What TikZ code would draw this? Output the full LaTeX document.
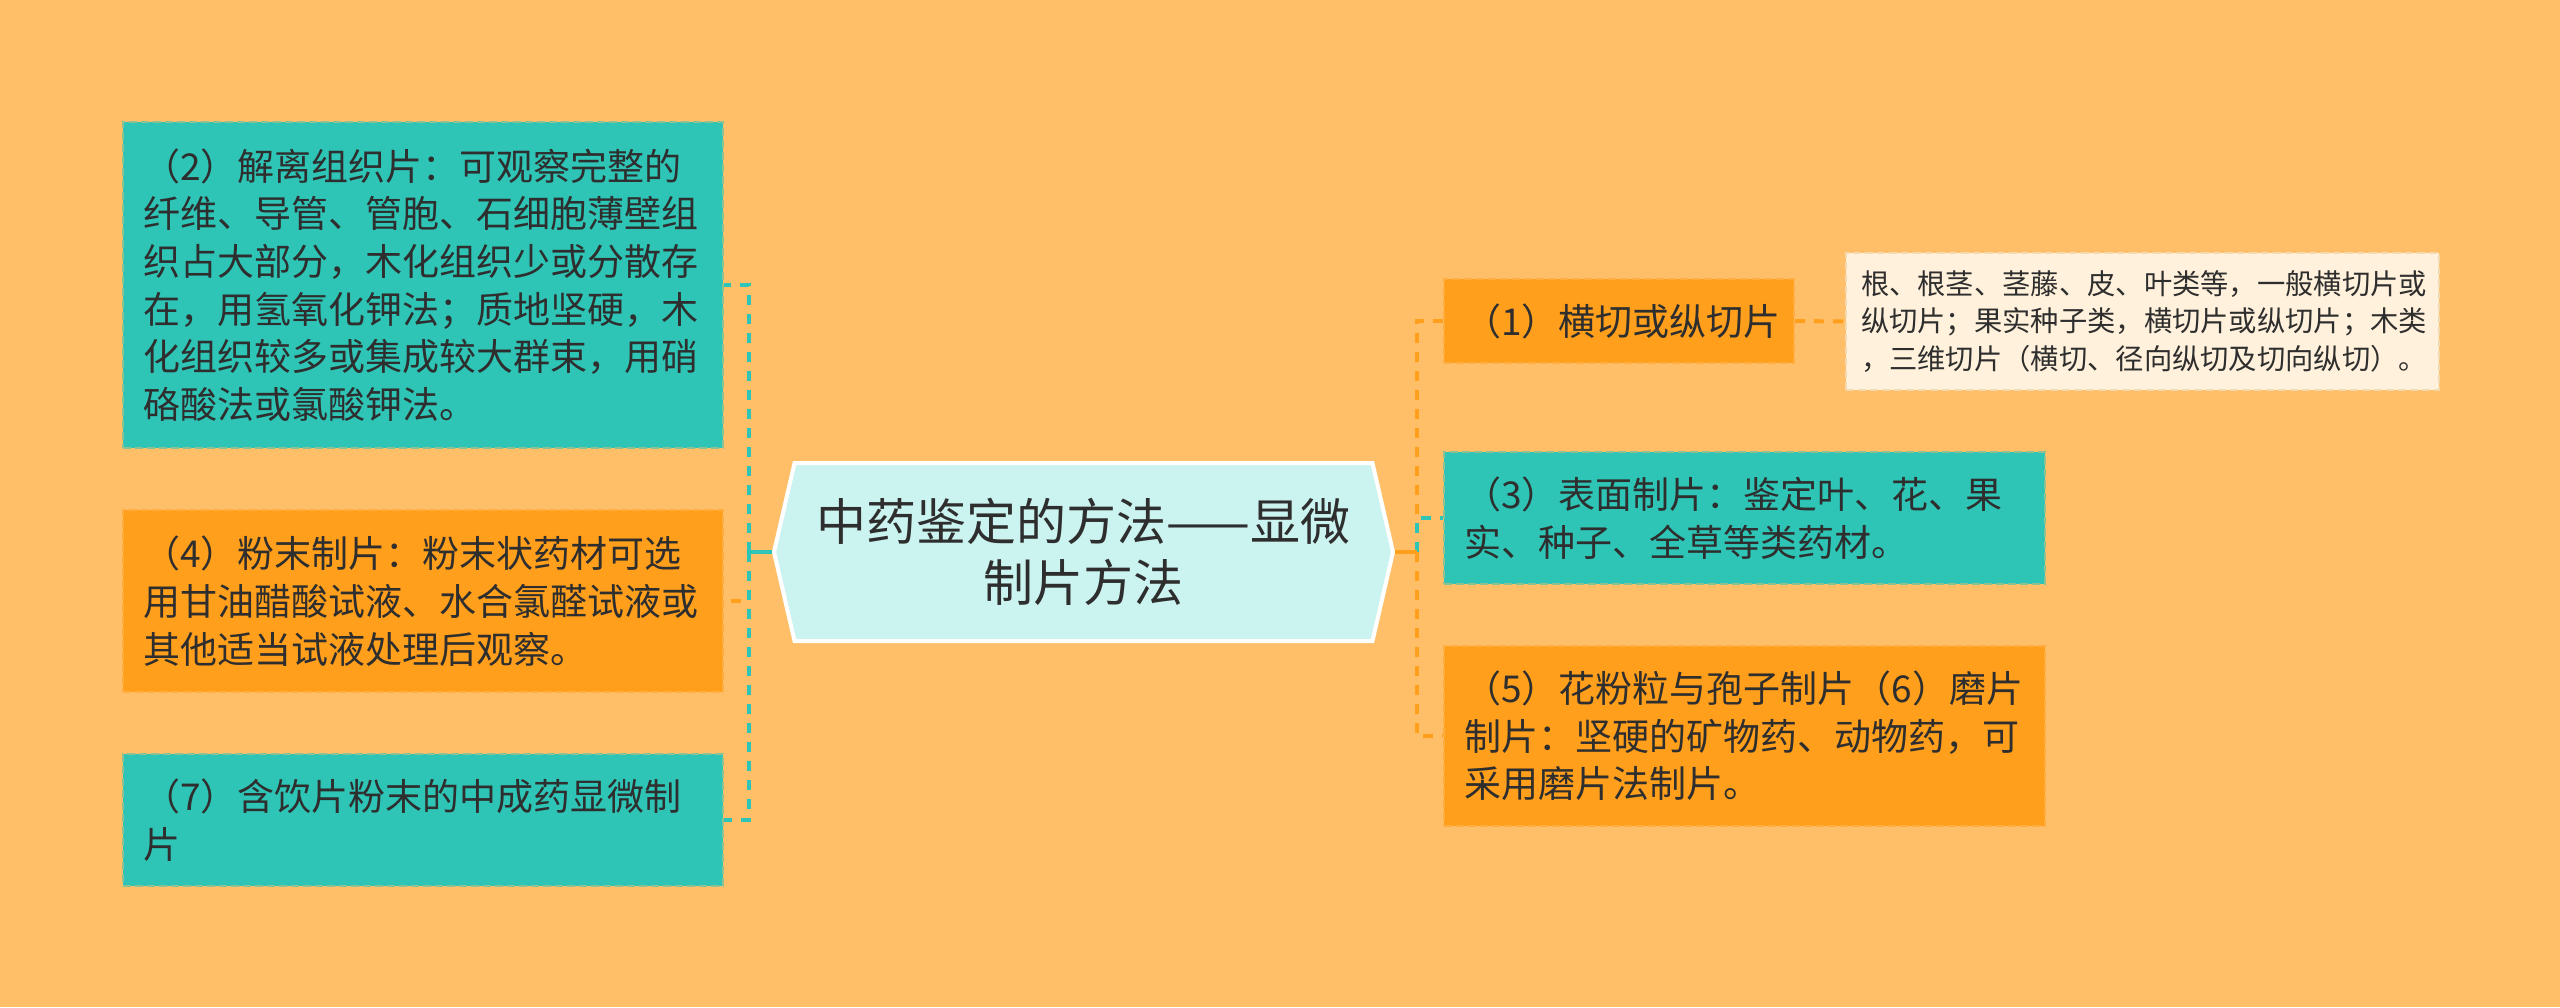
\documentclass[tikz,border=0pt]{standalone}
\usepackage{fontspec}
\setmainfont{Noto Sans CJK SC}
\usetikzlibrary{shapes.symbols}
\definecolor{bgc}{HTML}{FFBF69}
\definecolor{tealc}{HTML}{2EC4B6}
\definecolor{orgc}{HTML}{FF9F1C}
\definecolor{cenc}{HTML}{CBF3F0}
\definecolor{notec}{HTML}{FFF1DB}
\definecolor{notebd}{HTML}{F3D9B0}
\definecolor{txt}{HTML}{2E2E2E}
\begin{document}
\begin{tikzpicture}[x=1pt,y=-1pt,
  box/.style={rectangle, anchor=north west, inner xsep=20pt, inner ysep=0pt, align=left, text=txt,
    line width=2pt, dash pattern=on 8pt off 4pt, font=\fontsize{37}{47.7}\selectfont},
  tbox/.style={box, fill=tealc, draw=tealc!55!bgc},
  obox/.style={box, fill=orgc, draw=orgc!55!bgc},
  nbox/.style={box, inner xsep=15pt, fill=notec, draw=notebd, font=\fontsize{28.3}{37.5}\selectfont},
  conn/.style={line width=4pt, dash pattern=on 10pt off 9pt},
  stub/.style={line width=4pt},
]
\fill[bgc] (0,0) rectangle (2560,1007);
\useasboundingbox (0,0) rectangle (2560,1007);

% central topic
\node[signal, signal to=west and east, signal pointer angle=154, minimum width=619pt, minimum height=178pt,
  inner sep=0pt, fill=cenc, draw=white, line width=4pt, text=txt, align=center,
  font=\fontsize{50}{61}\selectfont] (c) at (1083.5,552) {中药鉴定的方法——显微\\制片方法};

% left boxes
\node[tbox, text width=560pt, minimum height=326pt] (b2) at (122,121)
  {（2）解离组织片：可观察完整的\\纤维、导管、管胞、石细胞薄壁组\\织占大部分，木化组织少或分散存\\在，用氢氧化钾法；质地坚硬，木\\化组织较多或集成较大群束，用硝\\硌酸法或氯酸钾法。};
\node[obox, text width=560pt, minimum height=182pt] (b4) at (122,509)
  {（4）粉末制片：粉末状药材可选\\用甘油醋酸试液、水合氯醛试液或\\其他适当试液处理后观察。};
\node[tbox, text width=560pt, minimum height=132pt] (b7) at (122,753)
  {（7）含饮片粉末的中成药显微制\\片};

% right boxes
\node[obox, text width=310pt, minimum height=84pt] (b1) at (1443,278) {（1）横切或纵切片};
\node[nbox, text width=563pt, minimum height=137pt] (note) at (1845,252)
  {根、根茎、茎藤、皮、叶类等，一般横切片或\\纵切片；果实种子类，横切片或纵切片；木类\\，三维切片（横切、径向纵切及切向纵切）。};
\node[tbox, text width=561pt, minimum height=132pt] (b3) at (1443,451)
  {（3）表面制片：鉴定叶、花、果\\实、种子、全草等类药材。};
\node[obox, text width=561pt, minimum height=180pt] (b5) at (1443,645)
  {（5）花粉粒与孢子制片（6）磨片\\制片：坚硬的矿物药、动物药，可\\采用磨片法制片。};

% junctions
\coordinate (lj) at (749,552);
\coordinate (rj) at (1417,552);

% left connectors
\draw[conn, orgc] (lj) |- (b4.east);
\draw[conn, tealc] (lj) |- (b2.east);
\draw[conn, tealc] (lj) |- (b7.east);
\draw[stub, tealc] (c.west) -- (lj);

% right connectors
\draw[conn, orgc] (rj) |- (b1.west);
\draw[conn, orgc] (rj) |- (b5.west);
\draw[conn, tealc] (rj) |- (b3.west);
\draw[stub, orgc] (c.east) -- (rj);
\draw[conn, orgc] (b1.east) -- (note.west);
\end{tikzpicture}
\end{document}
